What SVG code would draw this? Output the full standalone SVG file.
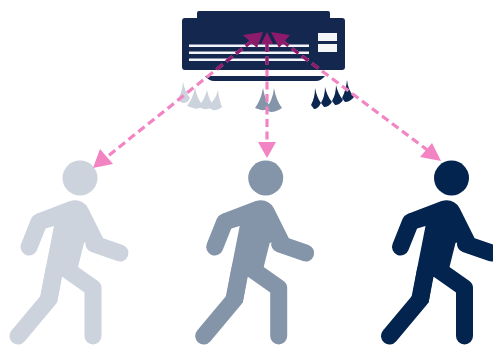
<svg xmlns="http://www.w3.org/2000/svg" width="493" height="345" viewBox="0 0 493 345">
<style>
.lim{fill:none;stroke-width:17;stroke-linecap:round;stroke-linejoin:round}
.con{fill:none;stroke:#f384c4;stroke-width:3.2;stroke-dasharray:8 4.5}
.tip{fill:#f384c4}
.in{stroke:#8c1b6c}
.tipin{fill:#8c1b6c}
.wh{fill:#f4f5f8}
</style>
<defs>
<g id="person">
<circle cx="80" cy="178" r="17.5" stroke="none"/>
<path stroke="none" d="M36 214L70 201Q82 198 88 208L103 238L84 243L78 267L62 277L57 303L40 297L54 226L44 229Z"/>
<path class="lim" d="M29 247L39 222"/>
<path class="lim" d="M94 244L120 253"/>
<path class="lim" d="M18 336L49 299L54 270"/>
<path class="lim" d="M93 336V288L66 269"/>
</g>
<clipPath id="acclip"><rect x="182" y="18" width="163" height="52"/></clipPath>
<clipPath id="acstrip"><rect x="205" y="76" width="120" height="5"/></clipPath>
</defs>
<g id="ac">
<path fill="#14274e" d="M197 18V13Q197 11 199 11H328Q330 11 330 13V18H342Q345 18 345 21V67Q345 70 342 70H185Q182 70 182 67V21Q182 18 185 18Z"/>
<path fill="#14274e" d="M205 76H325Q321 81 316 81H214Q209 81 205 76Z"/>
<rect class="wh" x="189" y="44.500" width="120" height="2.500"/>
<rect class="wh" x="189" y="51.500" width="120" height="2.500"/>
<rect class="wh" x="189" y="58.500" width="120" height="2.500"/>
<rect class="wh" x="318" y="33" width="19" height="8"/>
<rect class="wh" x="318" y="44" width="19" height="8"/>
</g>
<g id="vent-left" fill="#ccd3dc">
<path d="M183 82Q185 92 190 98Q188 103 183 103Q180 102 177 100Q182 94 183 82Z"/>
<path d="M195 88Q197 98 203 106Q198 110 193 108L187 106Q193 98 195 88Z"/>
<path d="M207 90Q209 100 214 106Q209 110 204 109L198 107Q205 99 207 90Z"/>
<path d="M218 90Q219 100 222 107Q218 111 213 110L207 107Q216 100 218 90Z"/>
</g>
<g id="vent-mid" fill="#8494a9">
<path d="M263 88Q265 100 270 106Q266 111 261 110L255 108Q261 100 263 88Z"/>
<path d="M274 88Q276 100 282 108Q276 112 271 112L265 110Q273 100 274 88Z"/>
</g>
<g id="vent-right" fill="#0b2650">
<path d="M315 88Q317 98 321 103Q318 109 314 109L311 105Q315 98 315 88Z"/>
<path d="M325 87Q327 96 332 102Q329 107 324 107L321 103Q325 96 325 87Z"/>
<path d="M336 85Q338 94 343 100Q340 105 335 105L332 101Q336 94 336 85Z"/>
<path d="M347 80Q348 90 354 97Q350 102 345 102L342 98Q346 90 347 80Z"/>
</g>
<g id="person-1" fill="#ccd3dc" stroke="#ccd3dc"><use href="#person"/></g>
<g id="person-2" fill="#8494a9" stroke="#8494a9"><use href="#person" x="185.700"/></g>
<g id="person-3" fill="#03244f" stroke="#03244f"><use href="#person" x="371.500"/></g>
<g id="connectors">
<path class="con" d="M252 41L103 160"/>
<path class="con" d="M267 44V146"/>
<path class="con" d="M282 41L430 152"/>
<polygon class="tip" points="93,168 100,149 113,164"/>
<polygon class="tip" points="267,158 258,142 276,142"/>
<polygon class="tip" points="441,161 432,143 420,157"/>
<g clip-path="url(#acclip)">
<path class="con in" d="M252 41L103 160"/>
<path class="con in" d="M267 44V146"/>
<path class="con in" d="M282 41L430 152"/>
</g>
<g clip-path="url(#acstrip)">
<path class="con in" d="M267 44V146"/>
</g>
<polygon class="tipin" points="263,32 243,35 257,48"/>
<polygon class="tipin" points="267,32 261,44 273,44"/>
<polygon class="tipin" points="271,32 290,35 279,48"/>
</g>
</svg>
